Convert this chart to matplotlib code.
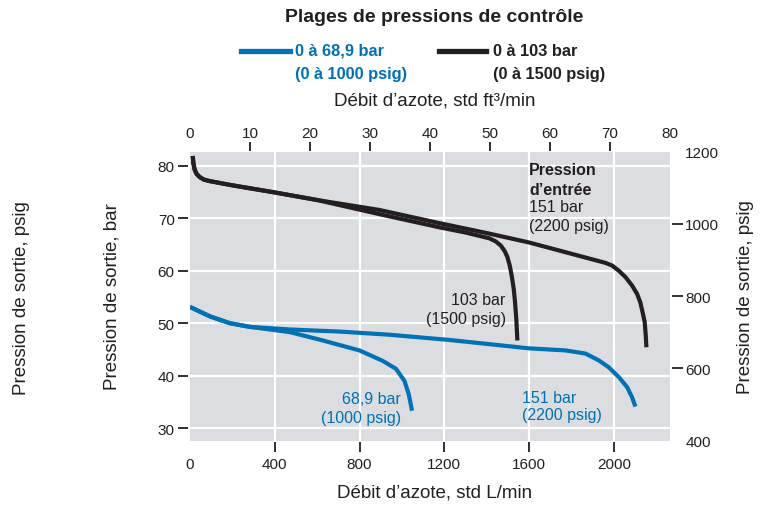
import matplotlib.pyplot as plt

plt.rcParams['font.family'] = ['Liberation Sans', 'DejaVu Sans']

BAR_TO_PSIG = 14.5038
FT3_TO_L = 28.3168

# debit (L/min) / pression de sortie (bar)
black_2200_x = [13, 16, 22, 31, 45, 65, 94, 200, 392, 600, 894, 1176, 1400, 1600, 1804, 1961,
                1992, 2024, 2055, 2086, 2110, 2125, 2136, 2146, 2151, 2154]
black_2200_y = [81.9, 80.5, 79.3, 78.5, 77.9, 77.4, 77.1, 76.3, 75.0, 73.5, 71.6, 69.1, 67.2, 65.4,
                63.2, 61.5, 61.0, 60.0, 58.8, 57.2, 55.6, 54.0, 52.1, 50.2, 47.6, 45.4]

black_1500_x = [13, 16, 22, 31, 45, 65, 94, 200, 392, 600, 894, 1176, 1300, 1412, 1443, 1467,
                1486, 1498, 1509, 1518, 1528, 1534, 1540, 1545]
black_1500_y = [81.9, 80.5, 79.3, 78.5, 77.9, 77.4, 77.1, 76.3, 75.0, 73.5, 70.8, 68.3, 67.3, 66.2,
                65.6, 64.8, 63.7, 62.6, 61.0, 59.1, 56.5, 54.0, 50.8, 46.7]

blue_2200_x = [0, 94, 188, 282, 471, 706, 941, 1224, 1600, 1773, 1867, 1929, 1976, 2024, 2063,
               2086, 2102]
blue_2200_y = [53.1, 51.3, 50.0, 49.3, 48.8, 48.4, 47.8, 46.8, 45.2, 44.8, 44.2, 42.9, 41.6, 39.7,
               37.8, 35.9, 34.1]

blue_1000_x = [0, 94, 188, 282, 471, 627, 800, 910, 972, 1012, 1032, 1048]
blue_1000_y = [53.1, 51.3, 50.0, 49.3, 48.3, 46.7, 44.8, 42.8, 41.3, 39.0, 36.5, 33.3]

bottom_ticks = [400, 800, 1200, 1600, 2000]
left_ticks = [30, 40, 50, 60, 70, 80]
top_ticks = [10, 20, 30, 40, 50, 60, 70]
right_ticks = [600, 800, 1000]

GRAY = '#dcdde0'
BLUE = '#0071b5'
BLACK = '#231f20'
W, H = 761, 506


def fx(px):
    return px / W


def fy(py):
    return 1 - py / H


fig = plt.figure(figsize=(W / 100, H / 100), dpi=100)
ax = fig.add_axes([fx(190), fy(441.7), 480 / W, (441.7 - 152.6) / H])
ax.set_facecolor(GRAY)
for s in ax.spines.values():
    s.set_visible(False)
ax.set_xlim(0, 80 * FT3_TO_L)
ax.set_ylim(400 / BAR_TO_PSIG, 1200 / BAR_TO_PSIG)

for v in bottom_ticks:
    ax.axvline(v, color='white', lw=1.6, zorder=1)
for v in left_ticks:
    ax.axhline(v, color='white', lw=1.6, zorder=1)

ax.plot(black_2200_x, black_2200_y, color=BLACK, lw=3, zorder=3, solid_capstyle='butt')
ax.plot(black_1500_x, black_1500_y, color=BLACK, lw=3, zorder=3, solid_capstyle='butt')
ax.plot(blue_2200_x, blue_2200_y, color=BLUE, lw=3, zorder=3, solid_capstyle='butt')
ax.plot(blue_1000_x, blue_1000_y, color=BLUE, lw=3, zorder=3, solid_capstyle='butt')

# petits traits de graduation, un peu detaches du fond gris
mark_kw = dict(color=BLACK, lw=1.3, clip_on=False, solid_capstyle='butt')
for v in right_ticks:
    ax.plot([1.004, 1.027], [v / BAR_TO_PSIG] * 2, transform=ax.get_yaxis_transform(), **mark_kw)
for v in top_ticks:
    ax.plot([v * FT3_TO_L] * 2, [1.003, 1.033], transform=ax.get_xaxis_transform(), **mark_kw)
for v in left_ticks:
    fig.add_artist(plt.Line2D([-0.025, -0.004], [v, v], transform=ax.get_yaxis_transform(), **mark_kw))
for v in bottom_ticks:
    fig.add_artist(plt.Line2D([v, v], [-0.04, -0.005], transform=ax.get_xaxis_transform(), **mark_kw))

tick_kw = dict(colors=BLACK, labelcolor=BLACK, labelsize=11, length=0)

# bas : L/min
ax.set_xticks([0] + bottom_ticks)
ax.tick_params(axis='x', pad=11.5, **tick_kw)

# gauche : bar
ax.set_yticks(left_ticks)
ax.tick_params(axis='y', pad=11, **tick_kw)

# haut : ft3/min
top = ax.secondary_xaxis('top', functions=(lambda l: l / FT3_TO_L, lambda f: f * FT3_TO_L))
for s in top.spines.values():
    s.set_visible(False)
top.set_xticks([0] + top_ticks + [80])
top.tick_params(axis='x', pad=8, **tick_kw)

# droite : psig
right = ax.secondary_yaxis('right', functions=(lambda b: b * BAR_TO_PSIG, lambda p: p / BAR_TO_PSIG))
for s in right.spines.values():
    s.set_visible(False)
right.set_yticks([400] + right_ticks + [1200])
right.tick_params(axis='y', pad=11, **tick_kw)

# annotations
ax.text(1600, 79.3, 'Pression', color=BLACK, fontsize=11.5, fontweight='bold', va='center')
ax.text(1600, 75.6, 'd\u2019entrée', color=BLACK, fontsize=11.5, fontweight='bold', va='center')
ax.text(1600, 72.3, '151 bar', color=BLACK, fontsize=11.5, va='center')
ax.text(1600, 68.6, '(2200 psig)', color=BLACK, fontsize=11.5, va='center')
ax.text(1490, 54.6, '103 bar', color=BLACK, fontsize=11.5, va='center', ha='right')
ax.text(1490, 50.8, '(1500 psig)', color=BLACK, fontsize=11.5, va='center', ha='right')
ax.text(996, 35.7, '68,9 bar', color=BLUE, fontsize=11.5, va='center', ha='right')
ax.text(996, 32.0, '(1000 psig)', color=BLUE, fontsize=11.5, va='center', ha='right')
ax.text(1569, 35.8, '151 bar', color=BLUE, fontsize=11.5, va='center')
ax.text(1569, 32.5, '(2200 psig)', color=BLUE, fontsize=11.5, va='center')

# titre et legende
fig.text(fx(434), fy(17), 'Plages de pressions de contrôle', color=BLACK, fontsize=14,
         fontweight='bold', ha='center', va='center')
fig.add_artist(plt.Line2D([fx(241), fx(290)], [fy(52), fy(52)], color=BLUE, lw=3.8))
fig.text(fx(295), fy(51), '0 à 68,9 bar', color=BLUE, fontsize=11.8, fontweight='bold', va='center')
fig.text(fx(295), fy(75), '(0 à 1000 psig)', color=BLUE, fontsize=11.8, fontweight='bold', va='center')
fig.add_artist(plt.Line2D([fx(439), fx(486)], [fy(52), fy(52)], color=BLACK, lw=3.8))
fig.text(fx(493), fy(51), '0 à 103 bar', color=BLACK, fontsize=11.8, fontweight='bold', va='center')
fig.text(fx(493), fy(75), '(0 à 1500 psig)', color=BLACK, fontsize=11.8, fontweight='bold', va='center')

# titres d'axes
fig.text(fx(435), fy(101), 'Débit d\u2019azote, std ft³/min', color=BLACK, fontsize=13.5,
         ha='center', va='center')
fig.text(fx(435), fy(493), 'Débit d\u2019azote, std L/min', color=BLACK, fontsize=13.5,
         ha='center', va='center')
fig.text(fx(112), fy(297), 'Pression de sortie, bar', color=BLACK, fontsize=13.5,
         rotation=90, ha='center', va='center')
fig.text(fx(22), fy(298), 'Pression de sortie, psig', color=BLACK, fontsize=13.5,
         rotation=90, ha='center', va='center')
fig.text(fx(745), fy(297), 'Pression de sortie, psig', color=BLACK, fontsize=13.5,
         rotation=90, ha='center', va='center')

fig.savefig('out.png', dpi=100)
